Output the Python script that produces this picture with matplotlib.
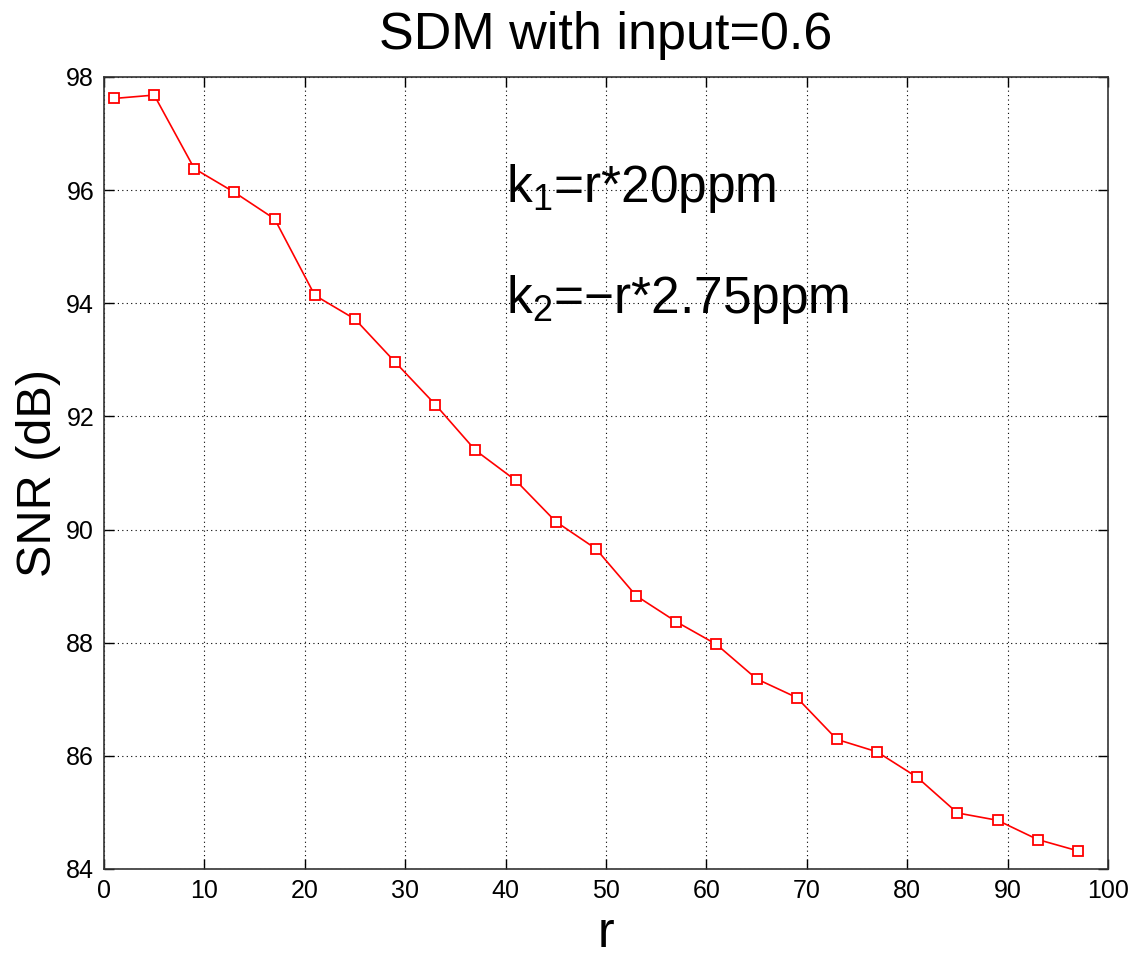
import matplotlib
matplotlib.use("Agg")
import matplotlib.pyplot as plt

plt.rcParams["font.family"] = ["Liberation Sans", "DejaVu Sans"]
plt.rcParams["mathtext.fontset"] = "custom"
plt.rcParams["mathtext.rm"] = "Liberation Sans"
plt.rcParams["mathtext.it"] = "Liberation Sans"

# r values and SNR
r_vals = [1, 5, 9, 13, 17, 21, 25, 29, 33, 37, 41, 45, 49,
          53, 57, 61, 65, 69, 73, 77, 81, 85, 89, 93, 97]
snr_db = [97.62, 97.68, 96.38, 95.96, 95.49, 94.14, 93.72, 92.96, 92.21,
          91.40, 90.87, 90.14, 89.66, 88.83, 88.37, 87.97, 87.36, 87.03,
          86.29, 86.07, 85.62, 84.99, 84.86, 84.52, 84.32]

x_ticks = list(range(0, 101, 10))
y_ticks = [84, 86, 88, 90, 92, 94, 96, 98]

fig = plt.figure(figsize=(11.35, 9.55), dpi=100)
ax = fig.add_axes([0.0916, 0.0901, 0.8846, 0.8293])

ax.plot(r_vals, snr_db, "-", color="red", linewidth=1.2,
        marker="s", markersize=7.5, markerfacecolor="white",
        markeredgecolor="red", markeredgewidth=1.3)

ax.set_xlim(0, 100)
ax.set_ylim(84, 98)
ax.set_xticks(x_ticks)
ax.set_yticks(y_ticks)
ax.tick_params(direction="in", length=7, width=1, labelsize=18,
               top=True, right=True, pad=7)
ax.grid(True, linestyle=(0, (1, 3)), color="black", linewidth=0.8)
for s in ax.spines.values():
    s.set_linewidth(1.2)
    s.set_color("#333333")

ax.set_title("SDM with input=0.6", fontsize=37.5, pad=20)
ax.set_xlabel("r", fontsize=36, labelpad=6)
ax.set_ylabel("SNR (dB)", fontsize=35, labelpad=4)

ax.text(40.0, 95.79, r"k$_1$=r*20ppm", fontsize=37)
ax.text(40.0, 93.82, "k$_2$=\u2212r*2.75ppm", fontsize=37)

fig.savefig("out.png", dpi=100)
